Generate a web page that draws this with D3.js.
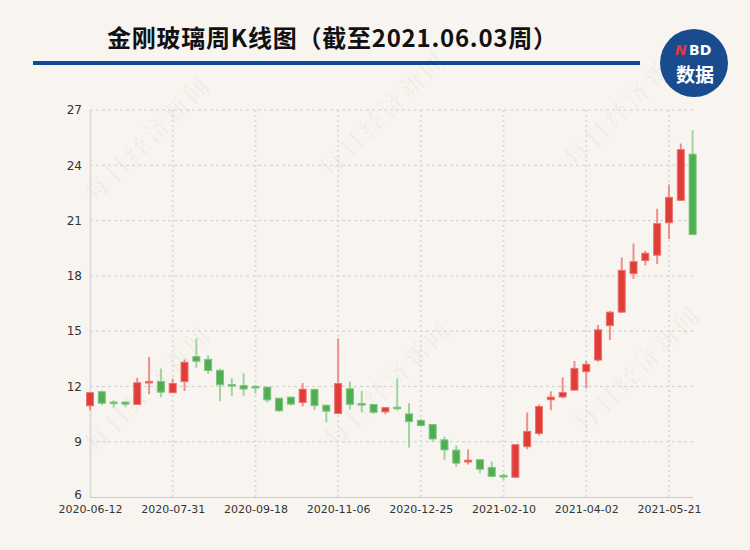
<!DOCTYPE html>
<html><head><meta charset="utf-8">
<script src="https://cdn.jsdelivr.net/npm/d3@7"></script>
<style>
html,body{margin:0;padding:0;background:#f8f5f0;}
svg{display:block;}
</style></head>
<body>
<svg id="chart" width="750" height="550"></svg>
<script>
// ---- data ----
const dates = ["2020-06-12","2020-06-19","2020-06-24","2020-07-03","2020-07-10","2020-07-17","2020-07-24","2020-07-31",
"2020-08-07","2020-08-14","2020-08-21","2020-08-28","2020-09-04","2020-09-11","2020-09-18","2020-09-25","2020-09-30",
"2020-10-09","2020-10-16","2020-10-23","2020-10-30","2020-11-06","2020-11-13","2020-11-20","2020-11-27","2020-12-04",
"2020-12-11","2020-12-18","2020-12-25","2020-12-31","2021-01-08","2021-01-15","2021-01-22","2021-01-29","2021-02-05",
"2021-02-10","2021-02-19","2021-02-26","2021-03-05","2021-03-12","2021-03-19","2021-03-26","2021-04-02","2021-04-09",
"2021-04-16","2021-04-23","2021-04-30","2021-05-07","2021-05-14","2021-05-21","2021-05-28","2021-06-03"];
const openPrices = [10.95,11.71,11.15,11.15,11.02,12.20,12.27,11.66,12.26,13.62,13.47,12.87,12.10,12.05,12.00,11.96,11.36,
11.42,11.13,11.84,10.98,10.53,11.87,11.07,11.02,10.62,10.87,10.51,10.15,9.93,9.10,8.54,7.90,8.02,7.60,7.17,7.07,8.73,
9.45,11.28,11.43,11.80,12.80,13.43,15.30,16.03,18.12,18.83,19.12,20.88,22.10,24.60];
const closePrices = [11.66,11.09,11.08,11.04,12.20,12.27,11.69,12.16,13.31,13.37,12.86,12.09,12.05,11.86,11.97,11.27,10.68,
11.04,11.85,10.96,10.66,12.16,11.03,11.00,10.60,10.85,10.82,10.09,9.88,9.15,8.56,7.84,8.00,7.51,7.12,7.10,8.84,9.56,
10.91,11.42,11.67,12.98,13.20,15.07,16.03,18.30,18.77,19.23,20.83,22.26,24.85,20.24];
const highPrices = [11.68,11.77,11.25,11.17,12.47,13.60,12.97,12.42,13.47,14.60,13.69,12.96,12.45,12.71,12.08,11.98,11.38,
11.44,12.18,11.86,11.00,14.60,12.27,11.76,11.04,10.88,12.44,11.09,10.24,9.95,9.28,8.79,8.58,8.04,7.93,7.28,8.86,10.59,
11.02,11.73,12.49,13.38,13.38,15.34,16.10,19.00,19.75,19.37,21.64,22.96,25.18,25.90];
const lowPrices = [10.70,10.98,10.85,10.87,11.00,11.58,11.42,11.64,11.75,13.02,12.69,11.20,11.49,11.50,11.62,11.14,10.62,
10.96,10.91,10.73,10.05,10.50,10.75,10.60,10.51,10.49,10.69,8.69,9.83,9.02,8.02,7.63,7.76,7.30,7.08,6.93,7.05,8.60,
9.34,10.70,11.35,11.78,11.89,13.34,14.52,16.00,17.83,18.57,18.65,20.00,22.08,20.22];
const yTicks = [6,9,12,15,18,21,24,27];
const xTickLabels = ["2020-06-12","2020-07-31","2020-09-18","2020-11-06","2020-12-25","2021-02-10","2021-04-02","2021-05-21"];
const titleText = "金刚玻璃周K线图（截至2021.06.03周）";
const watermark = "每日经济新闻";

// ---- drawing ----
const svg = d3.select("#chart");
svg.append("rect").attr("width",750).attr("height",550).attr("fill","#f8f5f0");

const x = d3.scalePoint().domain(dates).range([90, 692.6]);
const y = d3.scaleLinear().domain([6,27]).range([497,110]);

// watermarks
const wmPos = [[150,140],[385,115],[630,105],[150,390],[390,385],[640,370]];
svg.append("g").selectAll("text").data(wmPos).join("text")
  .attr("transform", d=>`translate(${d[0]},${d[1]}) rotate(-45)`)
  .attr("text-anchor","middle").attr("dominant-baseline","middle")
  .attr("font-family","Noto Serif CJK SC, Noto Sans CJK SC").attr("font-weight","bold").attr("font-size",24)
  .attr("letter-spacing",4)
  .attr("fill","#000").attr("fill-opacity",0.035).text(watermark);

// horizontal grid
svg.append("g").selectAll("line").data(yTicks.filter(v=>v!==6)).join("line")
  .attr("x1",90).attr("x2",693).attr("y1",d=>y(d)).attr("y2",d=>y(d))
  .attr("stroke","#cfcfcf").attr("stroke-width",1).attr("stroke-dasharray","3,3");

// vertical grid
svg.append("g").selectAll("line").data(xTickLabels.slice(1)).join("line")
  .attr("x1",d=>x(d)).attr("x2",d=>x(d)).attr("y1",110).attr("y2",497)
  .attr("stroke","#dcdcdc").attr("stroke-width",2).attr("stroke-dasharray","2,3");

// axes
const yAxis = d3.axisLeft(y).tickValues(yTicks).tickSize(0).tickPadding(8);
const gy = svg.append("g").attr("transform","translate(90,0)").call(yAxis);
gy.select(".domain").attr("stroke","#dddddd").attr("stroke-width",2);
gy.selectAll("text").attr("font-family","DejaVu Sans").attr("font-size",12).attr("fill","#333")
  .attr("dy", d=>d===6?"0.1em":"0.32em");

const xAxis = d3.axisBottom(x).tickValues(xTickLabels).tickSize(0).tickPadding(8);
const gx = svg.append("g").attr("transform","translate(0,497)").call(xAxis);
gx.select(".domain").attr("stroke","#cccccc").attr("stroke-width",1).attr("d","M90,0.5H693");
gx.selectAll("text").attr("font-family","DejaVu Sans").attr("font-size",11).attr("fill","#333");

// candles
const candles = dates.map((d,i)=>({d, o:openPrices[i], c:closePrices[i], h:highPrices[i], l:lowPrices[i]}));
const up = "#e03d38", down = "#4fae52";
const upWick = "#ee8f8b", downWick = "#9fd3a0";
const g = svg.append("g");
g.selectAll("line.wick").data(candles).join("line").attr("class","wick")
  .attr("x1",d=>x(d.d)).attr("x2",d=>x(d.d)).attr("y1",d=>y(d.h)).attr("y2",d=>y(d.l))
  .attr("stroke",d=>d.c>=d.o?upWick:downWick).attr("stroke-width",2);
g.selectAll("rect.body").data(candles).join("rect").attr("class","body")
  .attr("x",d=>x(d.d)-3.5).attr("width",7)
  .attr("y",d=>y(Math.max(d.o,d.c)))
  .attr("height",d=>Math.max(1.5, y(Math.min(d.o,d.c))-y(Math.max(d.o,d.c))))
  .attr("fill",d=>d.c>=d.o?up:down)
  .attr("stroke",d=>d.c>=d.o?"#ea7470":"#7cc57e").attr("stroke-width",1);

// title
svg.append("text").attr("x",332).attr("y",47).attr("text-anchor","middle")
  .attr("font-family","Noto Sans CJK SC").attr("font-weight","bold").attr("font-size",24)
  .attr("textLength",450).attr("lengthAdjust","spacing")
  .attr("fill","#111").text(titleText);
svg.append("rect").attr("x",33).attr("y",61).attr("width",607).attr("height",4).attr("fill","#0e4a9a");

// logo
const logo = svg.append("g");
logo.append("circle").attr("cx",694).attr("cy",63).attr("r",34).attr("fill","#1a4b8e");
logo.append("text").attr("x",675).attr("y",55).attr("text-anchor","start")
  .attr("font-family","DejaVu Sans").attr("font-weight","bold").attr("font-style","italic").attr("font-size",14)
  .attr("fill","#e8383d").text("N");
logo.append("text").attr("x",689).attr("y",55).attr("text-anchor","start")
  .attr("font-family","DejaVu Sans").attr("font-weight","bold").attr("font-size",14)
  .attr("fill","#fff").text("BD");
logo.append("text").attr("x",695).attr("y",82).attr("text-anchor","middle")
  .attr("font-family","Noto Sans CJK SC").attr("font-weight","bold").attr("font-size",19)
  .attr("fill","#fff").text("数据");
</script>
</body></html>
